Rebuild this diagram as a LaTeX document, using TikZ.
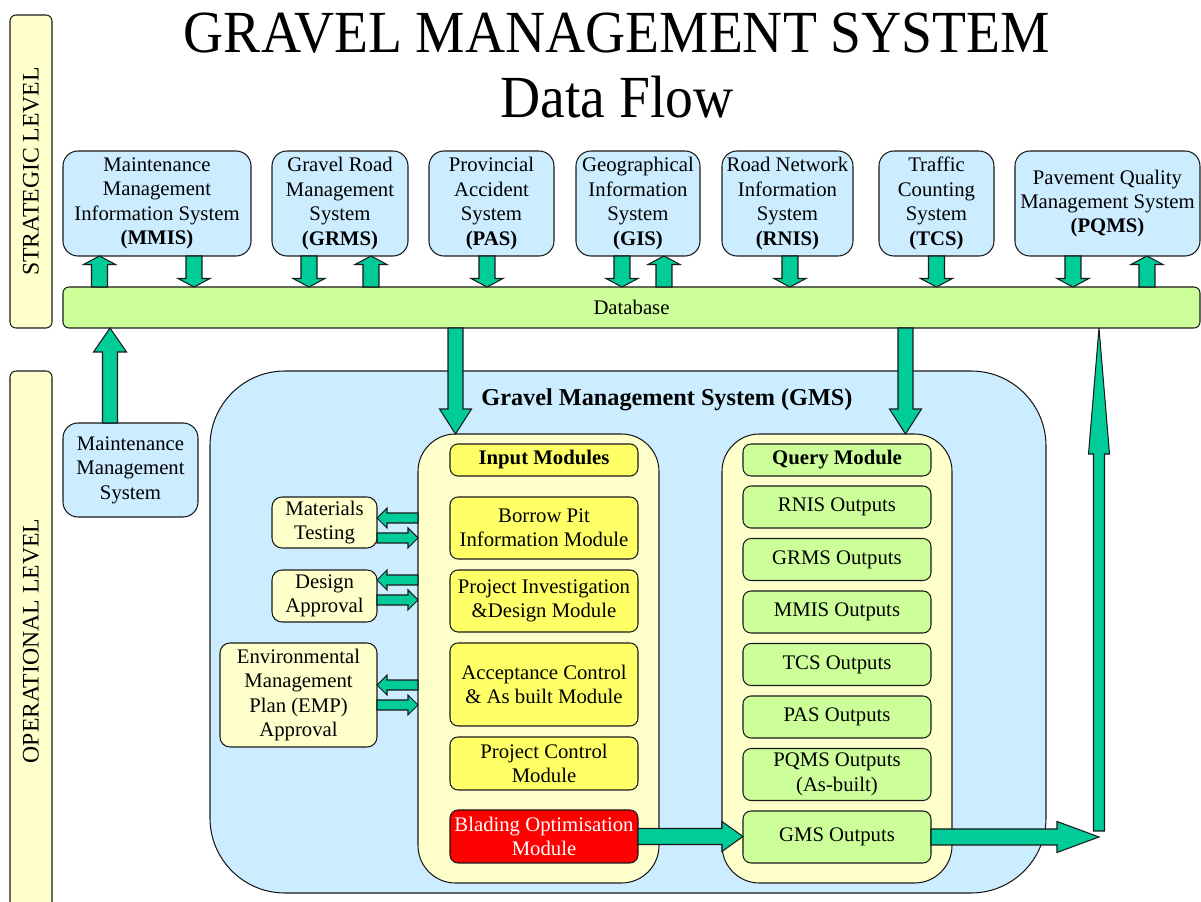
\documentclass[tikz,border=0pt]{standalone}
\usepackage{fontspec}
\setmainfont{Liberation Serif}
\usetikzlibrary{positioning, calc}

\definecolor{skyfill}{HTML}{CCECFF}
\definecolor{creamfill}{HTML}{FFFFCC}
\definecolor{lemonfill}{HTML}{FFFF66}
\definecolor{limefill}{HTML}{CCFF99}
\definecolor{flowfill}{HTML}{00CC99}
\definecolor{linec}{HTML}{1A1A1A}

\newcommand{\boxfont}{\fontsize{11.8}{13.9}\selectfont}
\newcommand{\levelfont}{\fontsize{13.5}{16}\selectfont}

% block arrow: from, to, shaft half width, head half width, head length
\newcommand{\blockarrow}[5]{%
  \coordinate (ba-h) at ($(#2)!#5!(#1)$);
  \draw[flow] ($(#1)!#3!90:(#2)$) -- ($(ba-h)!#3!90:(#2)$) -- ($(ba-h)!#4!90:(#2)$)
    -- (#2) -- ($(ba-h)!#4!-90:(#2)$) -- ($(ba-h)!#3!-90:(#2)$)
    -- ($(#1)!#3!-90:(#2)$) -- cycle;}

\begin{document}
\begin{tikzpicture}[
    x=0.02cm, y=-0.02cm,
    every node/.style={font=\boxfont, align=center, inner sep=0pt, outer sep=0pt},
    dims/.style 2 args={minimum width=#1*0.02cm, minimum height=#2*0.02cm},
    edged/.style={draw=linec, line width=0.6pt},
    barbox/.style={edged, fill=creamfill, rounded corners=0.12cm},
    sysbox/.style={edged, fill=skyfill, rounded corners=0.3cm},
    sidebox/.style={edged, fill=creamfill, rounded corners=0.2cm},
    modbox/.style={edged, fill=lemonfill, rounded corners=0.16cm, dims={188}{#1}},
    outbox/.style={edged, fill=limefill, rounded corners=0.16cm, dims={188}{#1}},
    holder/.style={edged, fill=creamfill, rounded corners=0.75cm},
    flow/.style={draw=linec, fill=flowfill, line width=0.6pt, line join=miter}
]
\useasboundingbox (0,0) rectangle (1201,902);

% title
\node (title) at (617,33) {\scalebox{0.93}[1]{\fontsize{34}{40}\selectfont GRAVEL MANAGEMENT SYSTEM}};
\node (subtitle) at (617,97) {\scalebox{0.93}[1]{\fontsize{34}{40}\selectfont Data Flow}};

% levels
\node[barbox, dims={42}{313}] (strat) at (31,171.5) {\rotatebox{90}{\levelfont STRATEGIC LEVEL}};
\node[barbox, dims={42}{540}] (oper) at (31,641) {\rotatebox{90}{\levelfont OPERATIONAL LEVEL}};

% strategic systems
\node[sysbox, dims={188}{105}] (mmis) at (157,203.5) {Maintenance\\Management\\Information System\\\textbf{(MMIS)}};
\node[sysbox, dims={136}{105}, right=0.42cm of mmis] (grms) {Gravel Road\\Management\\System\\\textbf{(GRMS)}};
\node[sysbox, dims={125}{105}, right=0.42cm of grms] (pas) {Provincial\\Accident\\System\\\textbf{(PAS)}};
\node[sysbox, dims={124}{105}, right=0.44cm of pas] (gis) {Geographical\\Information\\System\\\textbf{(GIS)}};
\node[sysbox, dims={131}{105}, right=0.44cm of gis] (rnis) {Road Network\\Information\\System\\\textbf{(RNIS)}};
\node[sysbox, dims={115}{105}, right=0.52cm of rnis] (tcs) {Traffic\\Counting\\System\\\textbf{(TCS)}};
\node[sysbox, dims={185}{105}, right=0.42cm of tcs] (pqms) {Pavement Quality\\Management System\\\textbf{(PQMS)}};

\node[edged, fill=limefill, rounded corners=0.12cm, dims={1137}{41}] (db) at (631.5,307.5) {Database};

\node[sysbox, dims={135}{94}] (mms) at (130.5,470) {Maintenance\\Management\\System};

% gravel management system
\node[edged, fill=skyfill, rounded corners=1.5cm, dims={836}{522}] (gms) at (628,632) {};
\node[font=\fontsize{13.8}{16}\selectfont\bfseries] (gmstitle) at (667,400) {Gravel Management System (GMS)};

\node[holder, dims={241}{449}] (incont) at (538.5,658.5) {};
\node[holder, dims={230}{449}] (qcont) at (837,658.5) {};

% input modules
\node[modbox=32] (inhdr) at (544,460) {\textbf{Input Modules}};
\node[modbox=62, below=0.42cm of inhdr] (borrow) {Borrow Pit\\Information Module};
\node[modbox=62, below=0.22cm of borrow] (pid) {Project Investigation\\\&Design Module};
\node[modbox=83, below=0.22cm of pid] (accept) {Acceptance Control\\\& As built Module};
\node[modbox=53, below=0.22cm of accept] (pctrl) {Project Control\\Module};
\node[modbox=53, fill=red, text=white, below=0.4cm of pctrl] (blading) {Blading Optimisation\\Module};

% query module
\node[outbox=32] (qhdr) at (837,460) {\textbf{Query Module}};
\node[outbox=42, below=0.2cm of qhdr] (rnisout) {RNIS Outputs};
\node[outbox=42, below=0.21cm of rnisout] (grmsout) {GRMS Outputs};
\node[outbox=42, below=0.21cm of grmsout] (mmisout) {MMIS Outputs};
\node[outbox=42, below=0.21cm of mmisout] (tcsout) {TCS Outputs};
\node[outbox=42, below=0.21cm of tcsout] (pasout) {PAS Outputs};
\node[outbox=52, below=0.21cm of pasout] (pqmsout) {PQMS Outputs\\(As-built)};
\node[outbox=52, below=0.21cm of pqmsout] (gmsout) {GMS Outputs};

% approvals
\node[sidebox, dims={105}{51}] (mat) at (324.5,522.5) {Materials\\Testing};
\node[sidebox, dims={105}{52}, below=0.44cm of mat] (dsg) {Design\\Approval};
\node[sidebox, dims={157}{104}] (emp) at (298.5,695) {Environmental\\Management\\Plan (EMP)\\Approval};

% strategic links
\foreach \sys/\dx in {mmis/-1.15, grms/0.62, gis/0.52, pqms/0.79}{
  \coordinate (sp) at ([xshift=\dx cm]\sys.south);
  \blockarrow{sp |- db.north}{sp}{0.16cm}{0.32cm}{0.17cm}
}
\foreach \sys/\dx in {mmis/0.74, grms/-0.62, pas/-0.09, gis/-0.32, rnis/0.05, tcs/0, pqms/-0.69}{
  \coordinate (sp) at ([xshift=\dx cm]\sys.south);
  \blockarrow{sp}{sp |- db.north}{0.16cm}{0.32cm}{0.17cm}
}

\coordinate (sp) at ([xshift=-0.41cm]mms.north);
\blockarrow{sp}{sp |- db.south}{0.15cm}{0.33cm}{0.48cm}

\coordinate (sp) at ([xshift=-1.66cm]incont.north);
\blockarrow{sp |- db.south}{sp}{0.15cm}{0.32cm}{0.5cm}
\coordinate (sp) at ([xshift=1.37cm]qcont.north);
\blockarrow{sp |- db.south}{sp}{0.15cm}{0.32cm}{0.5cm}

% approvals <-> input modules
\foreach \bx/\dl/\dr in {mat/0.09/-0.31, dsg/0.32/-0.08, emp/0.2/-0.2}{
  \coordinate (sp) at ([yshift=\dl cm]\bx.east);
  \blockarrow{sp -| incont.west}{sp}{0.1cm}{0.2cm}{0.2cm}
  \coordinate (sp) at ([yshift=\dr cm]\bx.east);
  \blockarrow{sp}{sp -| incont.west}{0.1cm}{0.2cm}{0.2cm}
}

% outputs back to database
\blockarrow{blading.east}{blading.east -| gmsout.west}{0.16cm}{0.3cm}{0.42cm}
\coordinate (turn) at (1099,831);
\blockarrow{gmsout.east}{gmsout.east -| turn}{0.16cm}{0.31cm}{0.84cm}
\blockarrow{turn}{turn |- db.south}{0.11cm}{0.21cm}{2.52cm}

\end{tikzpicture}
\end{document}
